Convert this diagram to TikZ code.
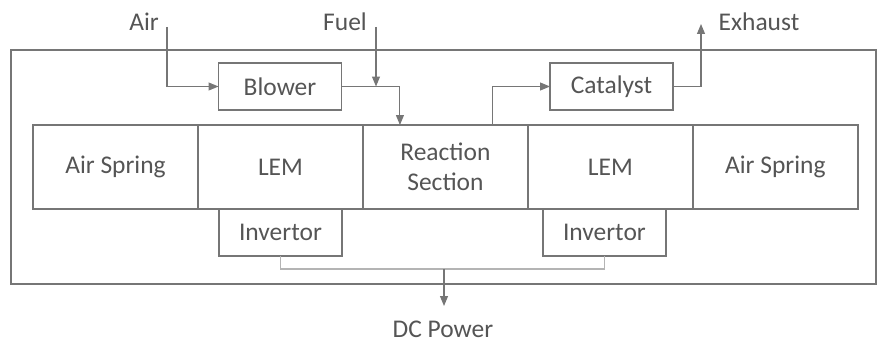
\documentclass[tikz,border=0pt]{standalone}
\usepackage{fontspec}
\setmainfont{Carlito}
\usetikzlibrary{arrows.meta,positioning}
\definecolor{boxgray}{HTML}{767676}
\definecolor{textgray}{HTML}{555555}
\definecolor{busgray}{HTML}{B4B4B4}

\begin{document}
\begin{tikzpicture}[x=0.02cm, y=-0.02cm,
	font=\fontsize{14.5}{17}\selectfont, text=textgray,
	unit/.style={draw=boxgray, line width=0.8pt, minimum width=3.3cm, minimum height=1.68cm, outer sep=0pt, inner sep=1pt, align=center},
	aux/.style={draw=boxgray, line width=0.8pt, minimum width=2.46cm, minimum height=0.94cm, outer sep=0pt},
	flow/.style={draw=boxgray, line width=0.6pt, -{Triangle[length=0.2cm, width=0.16cm]}},
	bus/.style={draw=busgray, line width=0.6pt}]
	\useasboundingbox (0,0) rectangle (877,341);
	
	% Housing
	\draw[boxgray, line width=1.1pt] (11,50) rectangle (876,284);
	
	% Engine sections
	\node[unit] (springL) at (115.5,167) {Air Spring};
	\node[unit, right=0 of springL] (lemL) {LEM};
	\node[unit, right=0 of lemL] (react) {Reaction\\Section};
	\node[unit, right=0 of react] (lemR) {LEM};
	\node[unit, right=0 of lemR] (springR) {Air Spring};
	
	% Auxiliary units
	\node[aux] (blower) at (280,86.5) {Blower};
	\node[aux] (catalyst) at (611.5,86.5) {Catalyst};
	\node[aux, below=0 of lemL] (invL) {Invertor};
	\node[aux, below=0 of lemR, xshift=-0.12cm] (invR) {Invertor};
	
	% Inputs and outputs
	\node[inner sep=1pt] (air) at (144,22) {Air};
	\node[inner sep=1pt] (fuel) at (345,22) {Fuel};
	\node[inner sep=1pt] (exhaust) at (759,22) {Exhaust};
	\node[inner sep=1pt] (dc) at (443,329) {DC Power};
	\coordinate (airIn) at (167,27);
	\coordinate (fuelIn) at (376,27);
	\coordinate (exOut) at (701,24);
	\coordinate (busMid) at (444,269);
	\coordinate (dcOut) at (444,306);
	
	% Gas paths
	\draw[flow] (airIn) |- (blower.west);
	\draw[flow] (fuelIn) -- (fuelIn |- blower.east);
	\draw[flow] (blower.east) -| ([xshift=-0.91cm]react.north);
	\draw[flow] ([xshift=0.95cm]react.north) |- (catalyst.west);
	\draw[flow] (catalyst.east) -| (exOut);
	
	% Electrical output
	\draw[bus] (invL.south) |- (busMid) -| (invR.south);
	\draw[flow] (busMid) -- (dcOut);
\end{tikzpicture}
\end{document}
